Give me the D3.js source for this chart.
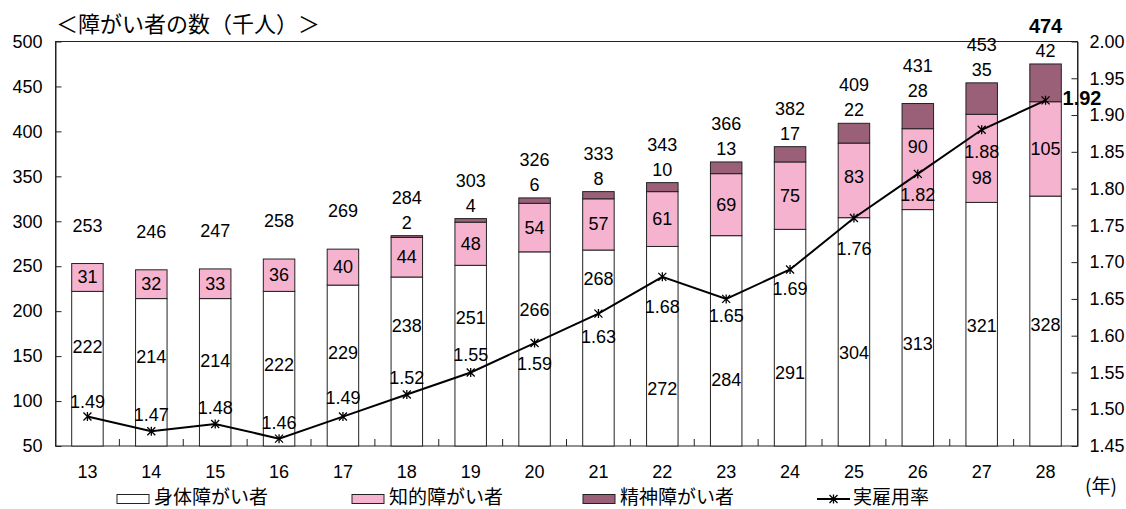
<!DOCTYPE html>
<html><head><meta charset="utf-8">
<script src="https://cdn.jsdelivr.net/npm/d3@7/dist/d3.min.js"></script>
<style>
html,body{margin:0;padding:0;background:#fff;}
svg{display:block;}
text{fill:#000;}
.num{font-family:"Liberation Sans",Arial,sans-serif;font-size:18px;}
.jp{font-family:"Noto Sans CJK JP","Noto Sans",sans-serif;}
</style></head>
<body>
<svg id="c" width="1126" height="509"></svg>
<script>
// ---- data ----
const years = ["13","14","15","16","17","18","19","20","21","22","23","24","25","26","27","28"];
const physical = [222,214,214,222,229,238,251,266,268,272,284,291,304,313,321,328];
const intellectual = [31,32,33,36,40,44,48,54,57,61,69,75,83,90,98,105];
const mental = [0,0,0,0,0,2,4,6,8,10,13,17,22,28,35,42];
const totals = [253,246,247,258,269,284,303,326,333,343,366,382,409,431,453,474];
const rate = [1.49,1.47,1.48,1.46,1.49,1.52,1.55,1.59,1.63,1.68,1.65,1.69,1.76,1.82,1.88,1.92];
const leftTicks = [50,100,150,200,250,300,350,400,450,500];
const rightTicks = [1.45,1.50,1.55,1.60,1.65,1.70,1.75,1.80,1.85,1.90,1.95,2.00];
const seriesNames = ["身体障がい者","知的障がい者","精神障がい者","実雇用率"];
const titleText = "＜障がい者の数（千人）＞";
const unitText = "(年)";

// ---- label layout (hand placement, as in the original) ----
const physLabelAt = [160,149,145,140,154,183,192,201.5,236,113,123.5,131.7,153,163.6,183,185]; // in thousands
const intelLabelDy = [0,0,0,0,0,0,0,0,0,0,0,0,-3,-22,20,0];
const rateLabelDy = [-15,-16,-16,-16,-19,-17,-17,21,23,30,17,20,31,21,22,0];

// ---- drawing ----
const svg = d3.select("#c");
const L = 55.5, R = 1077.5, T = 41.5, B = 446;
const x = d3.scaleBand().domain(years).range([L, R]).paddingInner(0.507).paddingOuter(0.2535);
const y = d3.scaleLinear().domain([50, 500]).range([B, T]);
const yR = d3.scaleLinear().domain([1.45, 2.00]).range([B, T]);
const cx = d => x(d) + x.bandwidth() / 2;

const colors = ["#ffffff", "#f5b3cf", "#996077"];
const table = years.map((yr, i) => ({year: yr, p: physical[i], n: intellectual[i], m: mental[i]}));
const stack = d3.stack().keys(["p", "n", "m"])(table);

// frame
svg.append("rect").attr("x", L).attr("y", T).attr("width", R - L).attr("height", B - T)
  .attr("fill", "none").attr("stroke", "#222").attr("stroke-width", 1);

// bars
stack.forEach((s, k) => {
  svg.append("g").selectAll("rect").data(s.filter(d => d[1] - d[0] > 0)).join("rect")
    .attr("x", d => x(d.data.year))
    .attr("width", x.bandwidth())
    .attr("y", d => y(d[1]))
    .attr("height", d => y(Math.max(d[0], 50)) - y(d[1]))
    .attr("fill", colors[k]).attr("stroke", "#222").attr("stroke-width", 1);
});

// left axis
const gl = svg.append("g").attr("transform", `translate(${L},0)`)
  .call(d3.axisLeft(y).tickValues(leftTicks).tickSizeInner(-6).tickSizeOuter(0).tickPadding(13));
gl.select(".domain").attr("stroke", "#222");
gl.selectAll(".tick line").attr("stroke", "#222");
gl.selectAll("text").attr("class", "num").attr("fill", "#000");

// right axis
const gr = svg.append("g").attr("transform", `translate(${R},0)`)
  .call(d3.axisRight(yR).tickValues(rightTicks).tickFormat(d3.format(".2f")).tickSizeInner(-6).tickSizeOuter(0).tickPadding(12));
gr.select(".domain").attr("stroke", "#222");
gr.selectAll(".tick line").attr("stroke", "#222");
gr.selectAll("text").attr("class", "num").attr("fill", "#000");

// bottom axis labels
const gb = svg.append("g").attr("transform", `translate(0,${B})`)
  .call(d3.axisBottom(x).tickSize(0).tickPadding(19));
gb.select(".domain").remove();
gb.selectAll("text").attr("class", "num").attr("fill", "#000");
// separator ticks between categories
svg.append("g").selectAll("line").data(years.slice(1)).join("line")
  .attr("x1", d => x(d) - x.step() * x.paddingInner() / 2)
  .attr("x2", d => x(d) - x.step() * x.paddingInner() / 2)
  .attr("y1", B).attr("y2", B - 7).attr("stroke", "#222");

// data labels
const lab = svg.append("g");
lab.selectAll(".lp").data(table).join("text").attr("class", "num")
  .attr("x", d => cx(d.year)).attr("y", (d, i) => y(physLabelAt[i]))
  .attr("text-anchor", "middle").attr("dominant-baseline", "central").text(d => d.p);
lab.selectAll(".ln").data(table).join("text").attr("class", "num")
  .attr("x", d => cx(d.year)).attr("y", (d, i) => (y(d.p) + y(d.p + d.n)) / 2 + intelLabelDy[i])
  .attr("text-anchor", "middle").attr("dominant-baseline", "central").text(d => d.n);
lab.selectAll(".lm").data(table.filter(d => d.m > 0)).join("text").attr("class", "num")
  .attr("x", d => cx(d.year)).attr("y", d => y(d.p + d.n + d.m) - 13)
  .attr("text-anchor", "middle").attr("dominant-baseline", "central").text(d => d.m);
lab.selectAll(".lt").data(table).join("text").attr("class", "num")
  .attr("x", d => cx(d.year)).attr("y", (d, i) => y(d.p + d.n + d.m) - 38)
  .attr("text-anchor", "middle").attr("dominant-baseline", "central")
  .style("font-weight", (d, i) => i === years.length - 1 ? "bold" : null)
  .style("font-size", (d, i) => i === years.length - 1 ? "20px" : null)
  .text((d, i) => totals[i]);

// rate line
const line = d3.line().x((d, i) => cx(years[i])).y(d => yR(d));
svg.append("path").datum(rate).attr("d", line).attr("fill", "none").attr("stroke", "#000").attr("stroke-width", 2);
const star = "M-4,-4L4,4M-4,4L4,-4M0,-4.5L0,4.5";
svg.append("g").selectAll("path").data(rate).join("path")
  .attr("transform", (d, i) => `translate(${cx(years[i])},${yR(d)})`)
  .attr("d", star).attr("stroke", "#000").attr("stroke-width", 1.3).attr("fill", "none");
svg.append("g").selectAll("text").data(rate).join("text").attr("class", "num")
  .attr("x", (d, i) => i === rate.length - 1 ? cx(years[i]) + 17 : cx(years[i]))
  .attr("y", (d, i) => yR(d) + rateLabelDy[i] - (i === rate.length - 1 ? 2 : 0))
  .attr("text-anchor", (d, i) => i === rate.length - 1 ? "start" : "middle")
  .attr("dominant-baseline", "central")
  .style("font-weight", (d, i) => i === rate.length - 1 ? "bold" : null)
  .style("font-size", (d, i) => i === rate.length - 1 ? "20px" : null)
  .text(d => d3.format(".2f")(d));

// title & unit
svg.append("text").attr("class", "jp").attr("x", 56).attr("y", 22)
  .attr("dominant-baseline", "central").style("font-size", "22px").text(titleText);
svg.append("text").attr("class", "jp").attr("x", 1085).attr("y", 484)
  .attr("dominant-baseline", "central").style("font-size", "19px").text(unitText);

// legend
const legX = [117, 352, 583, 817];
const lg = svg.append("g");
[0, 1, 2].forEach(k => {
  lg.append("rect").attr("x", legX[k]).attr("y", 494.5).attr("width", 32).attr("height", 9)
    .attr("fill", colors[k]).attr("stroke", "#222").attr("stroke-width", 1);
});
lg.append("line").attr("x1", legX[3]).attr("x2", legX[3] + 33).attr("y1", 499).attr("y2", 499)
  .attr("stroke", "#000").attr("stroke-width", 2);
lg.append("path").attr("transform", `translate(${legX[3] + 16.5},499)`).attr("d", star)
  .attr("stroke", "#000").attr("stroke-width", 1.3);
seriesNames.forEach((n, k) => {
  lg.append("text").attr("class", "jp").attr("x", legX[k] + (k === 3 ? 36 : 37)).attr("y", 495.5)
    .attr("dominant-baseline", "central").style("font-size", "19px").text(n);
});
</script>
</body></html>
